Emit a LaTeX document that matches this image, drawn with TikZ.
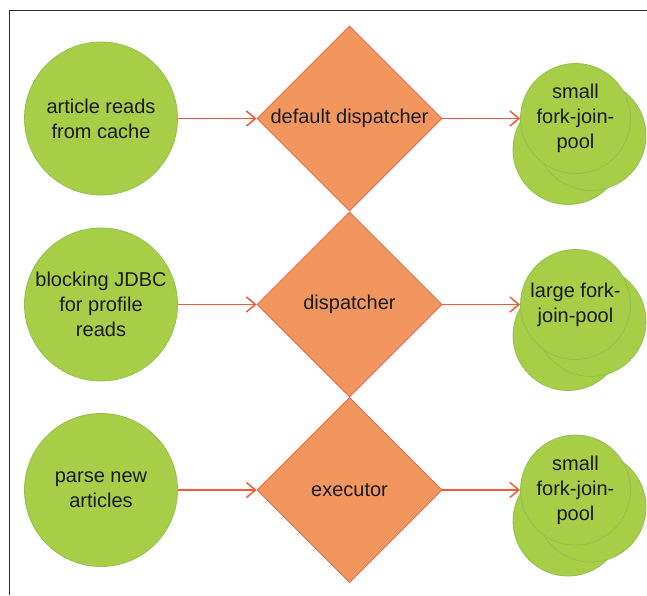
\documentclass[tikz,border=0pt]{standalone}
\usepackage{fontspec}
\setmainfont{Liberation Sans}
\usetikzlibrary{shapes.geometric,arrows.meta}
\definecolor{gfill}{HTML}{A8CE47}
\definecolor{gline}{HTML}{8EC150}
\definecolor{ofill}{HTML}{F2965F}
\definecolor{oline}{HTML}{EE5A3A}
\definecolor{framec}{HTML}{2A2A2A}
\definecolor{txt}{HTML}{1A1A1A}
\begin{document}
\begin{tikzpicture}[x=1pt,y=-1pt,
  lbl/.style={font=\fontsize{20}{25}\selectfont,text=txt,align=center},
  src/.style={lbl,circle,fill=gfill,draw=gline,line width=0.8pt,minimum size=153pt,inner sep=0pt},
  pool/.style={lbl,circle,fill=gfill,draw=gline,line width=0.8pt,minimum size=110pt,inner sep=0pt},
  disp/.style={lbl,diamond,aspect=1,fill=ofill,draw=oline,line width=0.8pt,minimum width=185pt,minimum height=185pt,inner sep=0pt},
  flow/.style={draw=oline,line width=1.5pt,-{Straight Barb[length=9pt,width=15pt]}}]
\useasboundingbox (0,0) rectangle (647,595);
\draw[framec,line width=1.6pt] (647,10.5) -- (9.5,10.5) -- (9.5,595);

% sources
\node[src] (a1) at (101,118.5) {article reads\\from cache};
\node[src] (a2) at (101,304.5) {blocking JDBC\\for profile\\reads};
\node[src] (a3) at (101,490) {parse new\\articles};

% dispatchers
\node[disp] (d1) at (349.5,118.5) {default dispatcher};
\node[disp] (d2) at (349.5,304.5) {dispatcher};
\node[disp] (d3) at (349.5,490) {executor};

% pools
\foreach \r/\y in {1/118.5,2/304.5,3/490}{
  \node[pool] (p\r back) at (568,\y+31) {};
  \node[pool] (p\r mid) at (591,\y+17) {};
}
\node[pool] (p1) at (575.5,118.5) {small\\fork-join-\\pool};
\node[pool] (p2) at (575.5,304.5) {large fork-\\join-pool};
\node[pool] (p3) at (575.5,490) {small\\fork-join-\\pool};

% connectors
\draw[flow] (a1) -- (d1);
\draw[flow] (a2) -- (d2);
\draw[flow] (a3) -- (d3);
\draw[flow] (d1) -- (p1);
\draw[flow] (d2) -- (p2);
\draw[flow] (d3) -- (p3);
\end{tikzpicture}
\end{document}
